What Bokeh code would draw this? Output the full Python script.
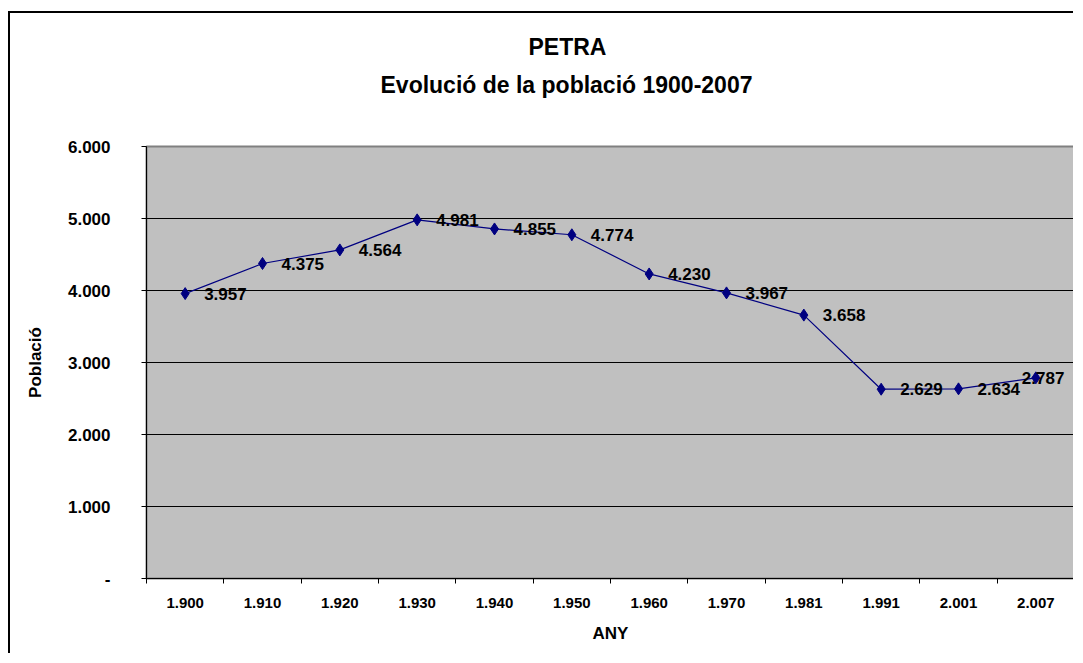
from bokeh.plotting import figure
from bokeh.models import FixedTicker, Title, ColumnDataSource, Range1d
from bokeh.core.properties import value
from bokeh.embed import file_html
from bokeh.resources import INLINE

years = ["1.900", "1.910", "1.920", "1.930", "1.940", "1.950", "1.960", "1.970", "1.981", "1.991", "2.001", "2.007"]
population = [3957, 4375, 4564, 4981, 4855, 4774, 4230, 3967, 3658, 2629, 2634, 2787]
pop_labels = ["3.957", "4.375", "4.564", "4.981", "4.855", "4.774", "4.230", "3.967", "3.658", "2.629", "2.634", "2.787"]
y_ticks = [0, 1000, 2000, 3000, 4000, 5000, 6000]
y_tick_labels = ["-", "1.000", "2.000", "3.000", "4.000", "5.000", "6.000"]

FONT = "Liberation Sans"

xs = [i + 0.5 for i in range(len(years))]

p = figure(width=1065, height=642, output_backend="svg", toolbar_location=None,
           x_range=Range1d(0, len(years)), y_range=Range1d(0, 6000),
           min_border_left=136, min_border_right=1, min_border_top=133, min_border_bottom=77)
p.styles = {"border-left": "2px solid black", "border-top": "2px solid black",
            "margin-left": "8px", "margin-top": "11px"}

p.background_fill_color = "#C0C0C0"
p.border_fill_color = "white"
p.outline_line_color = "#808080"
p.outline_line_width = 2

# titles (p.title is the outer line, the added one sits next to the frame)
p.title.text = "PETRA"
p.title.align = "left"
p.title.offset = 382
p.title.text_font = FONT
p.title.text_font_size = "23px"
p.title.text_font_style = "bold"
p.title.text_color = "black"
p.title.standoff = -78
t2 = Title(text="Evolució de la població 1900-2007", align="left", offset=234,
           text_font=FONT, text_font_size="23px", text_font_style="bold",
           text_color="black", standoff=98)
p.add_layout(t2, "above")

# axes
p.yaxis.ticker = FixedTicker(ticks=y_ticks)
p.yaxis.major_label_overrides = {t: l for t, l in zip(y_ticks, y_tick_labels)}
p.yaxis.minor_tick_line_color = None
p.yaxis.major_tick_out = 5
p.yaxis.major_tick_in = 0
p.yaxis.major_label_standoff = 31
p.yaxis.axis_label = "Població"
p.yaxis.axis_label_standoff = 20

p.xaxis.ticker = FixedTicker(ticks=xs, minor_ticks=list(range(len(years) + 1)))
p.xaxis.major_label_overrides = {x: y for x, y in zip(xs, years)}
p.xaxis.major_tick_line_color = None
p.xaxis.major_tick_out = 0
p.xaxis.major_tick_in = 0
p.xaxis.minor_tick_out = 5
p.xaxis.minor_tick_in = 0
p.xaxis.minor_tick_line_color = "black"
p.xaxis.major_label_standoff = 14
p.xaxis.axis_label = "ANY"
p.xaxis.axis_label_standoff = 13

for ax in (p.xaxis[0], p.yaxis[0]):
    ax.axis_line_color = "black"
    ax.major_label_text_font = FONT
    ax.major_label_text_font_style = "bold"
    ax.major_label_text_color = "black"
    ax.axis_label_text_font = FONT
    ax.axis_label_text_font_size = "17px"
    ax.axis_label_text_font_style = "bold"
    ax.axis_label_text_color = "black"
p.xaxis.major_label_text_font_size = "15px"
p.yaxis.major_label_text_font_size = "17px"

p.xgrid.grid_line_color = None
p.ygrid.ticker = FixedTicker(ticks=y_ticks)
p.ygrid.grid_line_color = "black"
p.ygrid.grid_line_width = 1

src = ColumnDataSource(dict(x=xs, y=population, lab=pop_labels))
p.line("x", "y", source=src, line_color="#000080", line_width=1.2)
p.scatter("x", "y", source=src, marker="diamond", size=12, fill_color="#000080", line_color="#000080")

n = len(years)
src_main = ColumnDataSource(dict(x=xs[:n - 1], y=population[:n - 1], lab=pop_labels[:n - 1]))
src_last = ColumnDataSource(dict(x=xs[n - 1:], y=population[n - 1:], lab=pop_labels[n - 1:]))
p.text("x", "y", text="lab", source=src_main, x_offset=19, y_offset=0,
       text_font=value(FONT), text_font_size="17px", text_font_style="bold",
       text_baseline="middle", text_align="left", text_color="black")
p.text("x", "y", text="lab", source=src_last, x_offset=-14, y_offset=0,
       text_font=value(FONT), text_font_size="17px", text_font_style="bold",
       text_baseline="middle", text_align="left", text_color="black")

open("out.html", "w").write(file_html(p, INLINE))
